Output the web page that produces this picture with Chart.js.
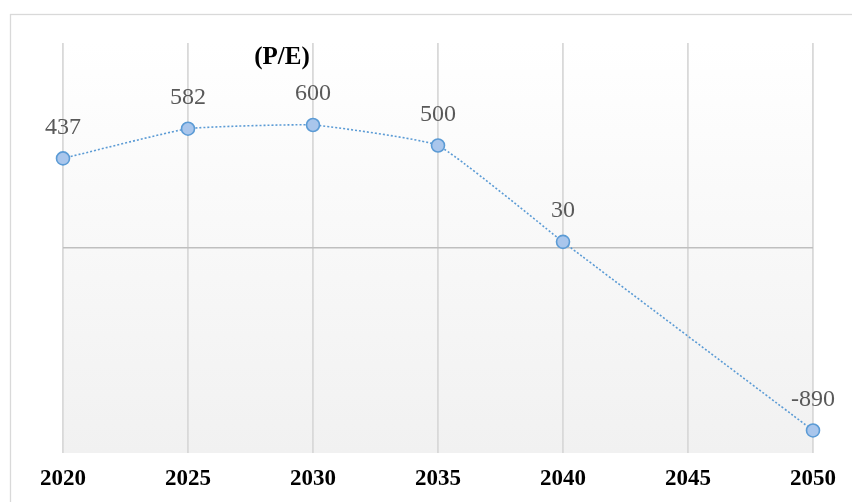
<!DOCTYPE html>
<html>
<head>
<meta charset="utf-8">
<script src="https://cdn.jsdelivr.net/npm/chart.js@4.4.1/dist/chart.umd.min.js"></script>
<style>
  html, body { margin: 0; padding: 0; background: #ffffff; }
  #wrap { width: 852px; height: 502px; position: relative; }
</style>
</head>
<body>
<div id="wrap"><canvas id="chart1"></canvas></div>
<script>
// Values (2045 has no point, the line spans it)
const years = ['2020', '2025', '2030', '2035', '2040', '2045', '2050'];
const peValues = [437, 582, 600, 500, 30, null, -890];
const chartTitle = '(P/E)';
const yMin = -1000;
const yMax = 1000;

// Light grey frame round the whole chart and the grey gradient in the plot area
const backdrop = {
    id: 'backdrop',
    beforeDraw(chart) {
        const ctx = chart.ctx;
        const a = chart.chartArea;
        ctx.save();
        ctx.strokeStyle = '#d9d9d9';
        ctx.lineWidth = 1.3;
        ctx.strokeRect(10.5, 14.5, chart.width, chart.height);
        let grad = ctx.createLinearGradient(0, a.top, 0, a.bottom);
        grad.addColorStop(0, '#ffffff');
        grad.addColorStop(1, '#f1f1f1');
        ctx.fillStyle = grad;
        ctx.fillRect(a.left, a.top, a.right - a.left, a.bottom - a.top);
        ctx.restore();
    }
};

// Value labels above each point and the small bold title
const labels = {
    id: 'labels',
    afterDatasetsDraw(chart) {
        const ctx = chart.ctx;
        const meta = chart.getDatasetMeta(0);
        ctx.save();
        ctx.font = '24px "Liberation Serif", "Times New Roman", serif';
        ctx.fillStyle = '#595959';
        ctx.textAlign = 'center';
        ctx.textBaseline = 'middle';
        meta.data.forEach((pt, i) => {
            if (peValues[i] === null) return;
            ctx.fillText(String(peValues[i]), pt.x, pt.y - 31);
        });
        const a = chart.chartArea;
        ctx.font = 'bold 25px "Liberation Serif", "Times New Roman", serif';
        ctx.fillStyle = '#000000';
        ctx.fillText(chartTitle, a.left + 219, a.top + 15);
        ctx.restore();
    }
};

let ctx1 = document.getElementById('chart1').getContext('2d');
let chart1 = new Chart(ctx1, {
    type: 'line',
    data: {
        labels: years,
        datasets: [
            {
                label: 'P/E',
                data: peValues,
                spanGaps: true,
                fill: false,
                tension: 0.12,
                borderColor: '#5b9bd5',
                borderWidth: 1.6,
                borderDash: [2, 2],
                pointRadius: 6.5,
                pointBorderWidth: 1.6,
                pointBackgroundColor: '#a9c6ec',
                pointBorderColor: '#5b9bd5',
                pointHoverRadius: 6.5
            }
        ]
    },
    options: {
        responsive: true,
        maintainAspectRatio: false,
        animation: false,
        layout: {
            padding: { left: 63, right: 39, top: 43, bottom: 0 }
        },
        plugins: {
            legend: { display: false },
            title: { display: false },
            tooltip: { enabled: false }
        },
        scales: {
            x: {
                offset: false,
                border: { display: false },
                afterFit: (scale) => { scale.height = 49; },
                grid: {
                    color: '#d9d9d9',
                    lineWidth: 1.8,
                    drawTicks: false
                },
                ticks: {
                    color: '#000000',
                    padding: 12,
                    font: { family: '"Liberation Serif", "Times New Roman", serif', size: 23, weight: 'bold' }
                }
            },
            y: {
                min: yMin,
                max: yMax,
                border: { display: false },
                grid: {
                    drawTicks: false,
                    lineWidth: 1.6,
                    color: (c) => (c.tick && c.tick.value === 0 ? '#bfbfbf' : 'rgba(0,0,0,0)')
                },
                ticks: { display: false, stepSize: 1000 }
            }
        }
    },
    plugins: [backdrop, labels]
});
</script>
</body>
</html>
